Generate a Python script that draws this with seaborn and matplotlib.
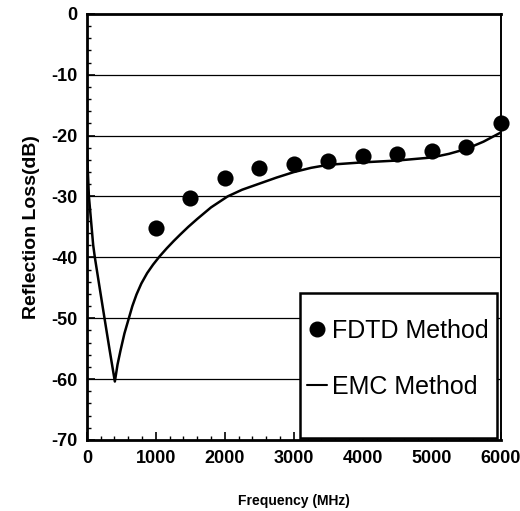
import matplotlib
matplotlib.use("Agg")
import matplotlib.pyplot as plt
from matplotlib.ticker import MultipleLocator, FixedLocator
from matplotlib.lines import Line2D
from matplotlib.patches import Rectangle
import seaborn as sns
import pandas as pd

# FDTD simulation results (MHz, dB)
fdtd_freq = [1000, 1500, 2000, 2500, 3000, 3500, 4000, 4500, 5000, 5500, 6000]
fdtd_loss = [-35.2, -30.3, -27.0, -25.3, -24.7, -24.2, -23.4, -23.0, -22.5, -21.8, -18.0]

# EMC method curve (MHz, dB)
emc_freq = [0, 30, 92, 116, 180, 256, 330, 406, 445, 488, 545, 609, 660, 720, 790, 874,
            960, 1058, 1160, 1261, 1350, 1470, 1600, 1800, 2040, 2250, 2500, 2750,
            3000, 3250, 3500, 4000, 4500, 5000, 5250, 5500, 5750, 6000]
emc_loss = [-22.0, -30.0, -38.0, -40.0, -44.6, -50.0, -55.2, -60.4, -57.6, -55.3, -52.5, -50.0,
            -48.0, -46.1, -44.3, -42.6, -41.2, -39.8, -38.5, -37.3, -36.3, -35.0, -33.7,
            -31.8, -30.0, -28.9, -27.9, -26.9, -26.0, -25.3, -24.8, -24.4, -24.1, -23.6,
            -23.0, -22.2, -21.0, -19.5]

x_ticks = [0, 1000, 2000, 3000, 4000, 5000, 6000]
y_ticks = [0, -10, -20, -30, -40, -50, -60, -70]
y_tick_labels = ["0", "-10", "-20", "-30", "-40", "-50", "-60", "-70"]

sns.set_theme(style="white")
plt.rcParams["font.family"] = ["Liberation Sans", "DejaVu Sans"]
plt.rcParams["axes.unicode_minus"] = False
plt.rcParams["text.color"] = "black"
plt.rcParams["axes.labelcolor"] = "black"
plt.rcParams["legend.labelcolor"] = "black"

fig = plt.figure(figsize=(5.2, 5.11), dpi=100)
ax = fig.add_axes([0.167, 0.139, 0.796, 0.834])

emc = pd.DataFrame({"freq": emc_freq, "loss": emc_loss})
fdtd = pd.DataFrame({"freq": fdtd_freq, "loss": fdtd_loss})

# horizontal grid lines at every 10 dB
for yv in y_ticks[1:-1]:
    ax.axhline(yv, color="black", lw=0.9, zorder=1)

sns.lineplot(data=emc, x="freq", y="loss", color="black", lw=1.8, ax=ax,
             zorder=3, sort=False)
sns.scatterplot(data=fdtd, x="freq", y="loss", color="black", s=135,
                edgecolor="black", linewidth=0, ax=ax, zorder=4, clip_on=False)

ax.set_xlim(0, 6000)
ax.set_ylim(-70, 0)
ax.xaxis.set_major_locator(FixedLocator(x_ticks))
ax.yaxis.set_major_locator(FixedLocator(y_ticks))
ax.set_yticklabels(y_tick_labels)
ax.xaxis.set_minor_locator(MultipleLocator(200))
ax.yaxis.set_minor_locator(MultipleLocator(2))
ax.tick_params(axis="both", which="major", direction="in", length=6, width=1.2,
               labelsize=13, pad=7, colors="black")
ax.tick_params(axis="both", which="minor", direction="in", length=3, width=1.0,
               colors="black")
ax.tick_params(axis="x", which="both", bottom=True, top=False)
ax.tick_params(axis="y", which="both", left=True, right=False)
for lab in ax.get_xticklabels() + ax.get_yticklabels():
    lab.set_fontweight("bold")

for side, lw in (("left", 2.0), ("bottom", 2.0), ("top", 2.0), ("right", 1.4)):
    ax.spines[side].set_visible(True)
    ax.spines[side].set_color("black")
    ax.spines[side].set_linewidth(lw)

ax.set_xlabel("Frequency (MHz)", fontsize=10, fontweight="bold", labelpad=20)
ax.set_ylabel("Reflection Loss(dB)", fontsize=14, fontweight="bold", labelpad=8)

# legend box: white panel with a black border, entries centred inside it
box_x0, box_y0, box_x1, box_y1 = 0.5145, 0.005, 0.990, 0.345
ax.add_patch(Rectangle((box_x0, box_y0), box_x1 - box_x0, box_y1 - box_y0,
                       transform=ax.transAxes, facecolor="white",
                       edgecolor="black", lw=1.8, zorder=5))

handles = [
    Line2D([], [], marker="o", color="black", linestyle="none", markersize=10.5),
    Line2D([], [], color="black", lw=1.5),
]
leg = ax.legend(handles, ["FDTD Method", "EMC Method"], loc="center",
                bbox_to_anchor=((box_x0 + box_x1) / 2, 0.19), frameon=False,
                prop={"family": "Liberation Sans", "size": 18},
                handlelength=0.8, handletextpad=0.2,
                labelspacing=1.3, borderpad=0.0, borderaxespad=0.0)
leg.set_zorder(6)
for t in leg.get_texts():
    t.set_color("black")

fig.savefig("out.png", dpi=100, facecolor="white")
